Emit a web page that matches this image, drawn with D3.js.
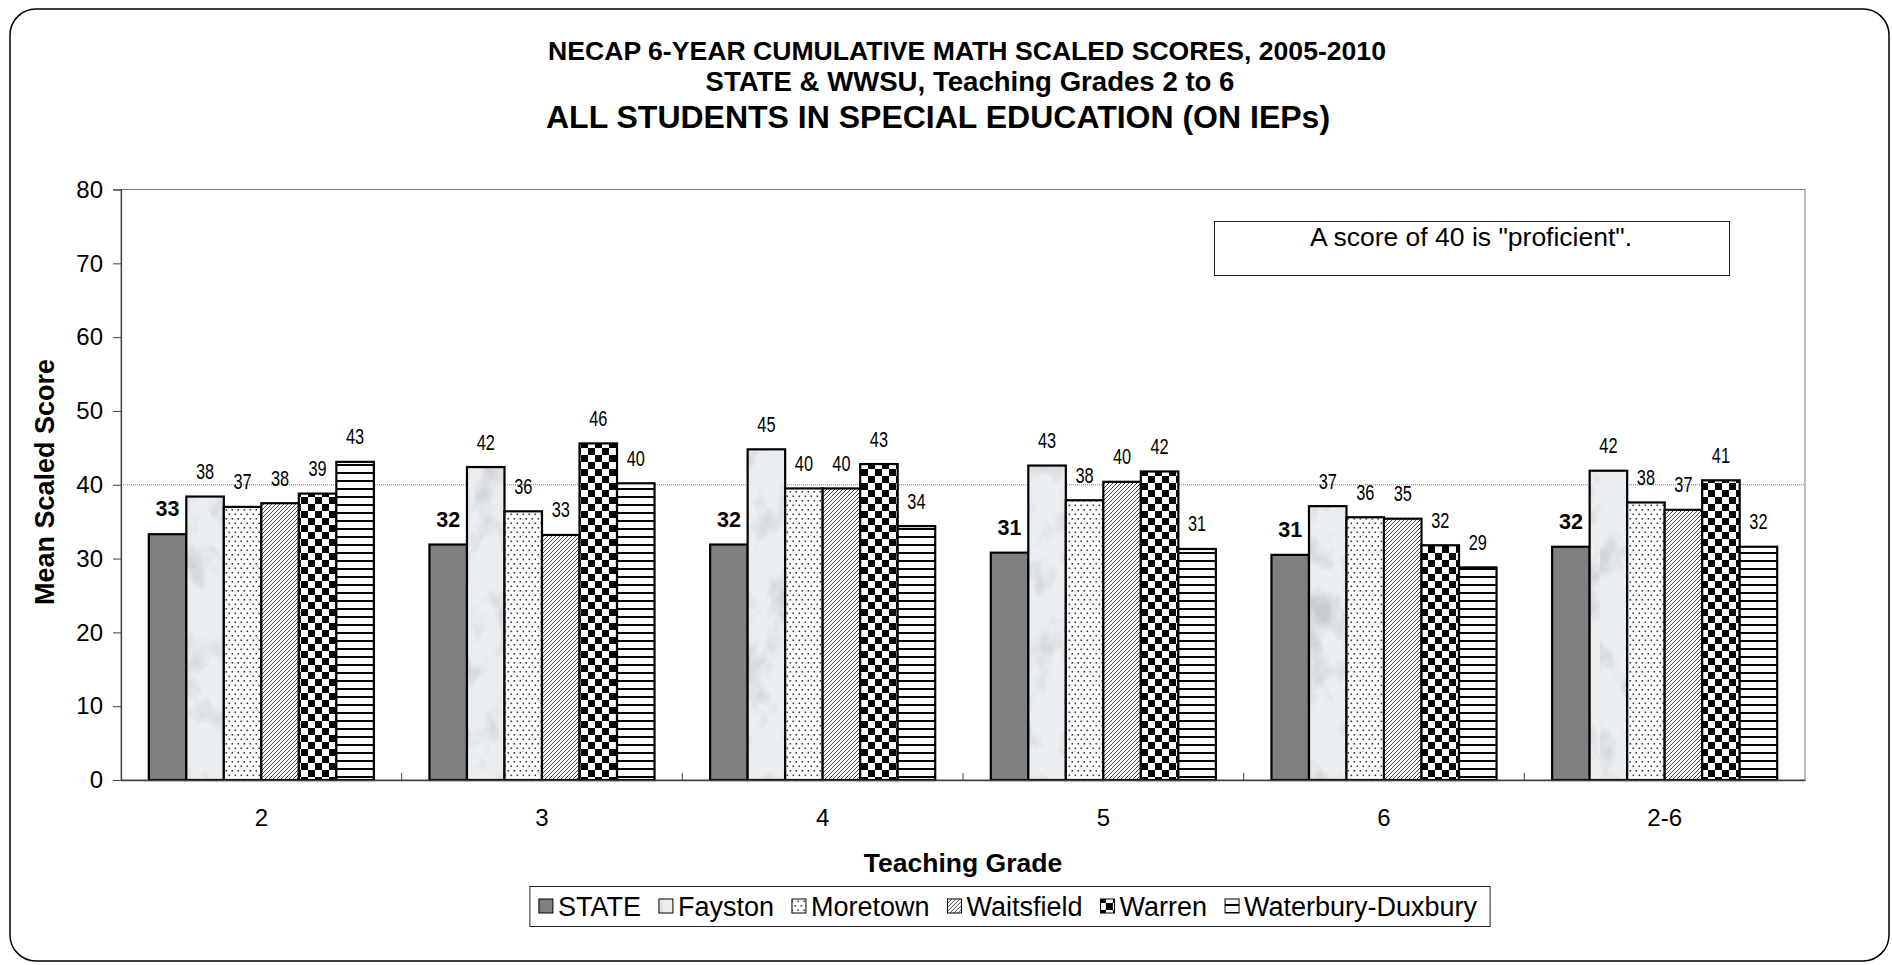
<!DOCTYPE html>
<html>
<head>
<meta charset="utf-8">
<script src="https://cdn.jsdelivr.net/npm/d3@7"></script>
<style>
  html, body { margin: 0; padding: 0; background: #ffffff; }
  svg { display: block; }
  .sans { font-family: "Liberation Sans", Arial, Helvetica, sans-serif; }
</style>
</head>
<body>
<script>
// ---------------- DATA ----------------
const categories = ["2", "3", "4", "5", "6", "2-6"];
const seriesNames = ["STATE", "Fayston", "Moretown", "Waitsfield", "Warren", "Waterbury-Duxbury"];
const stateValues      = [33.3, 31.9, 31.9, 30.8, 30.5, 31.6];
const faystonValues    = [38.4, 42.4, 44.8, 42.6, 37.1, 41.9];
const moretownValues   = [37.0, 36.4, 39.5, 37.9, 35.6, 37.6];
const waitsfieldValues = [37.5, 33.2, 39.5, 40.4, 35.4, 36.6];
const warrenValues     = [38.8, 45.6, 42.8, 41.8, 31.8, 40.6];
const wdValues         = [43.1, 40.2, 34.4, 31.3, 28.8, 31.6];
const yTicks = [0, 10, 20, 30, 40, 50, 60, 70, 80];
const proficientScore = 40;
const titleLines = [
  "NECAP 6-YEAR CUMULATIVE MATH SCALED SCORES, 2005-2010",
  "STATE & WWSU, Teaching Grades 2 to 6",
  "ALL STUDENTS IN SPECIAL EDUCATION (ON IEPs)"
];
const xTitle = "Teaching Grade";
const yTitle = "Mean Scaled Score";
const noteText = "A score of 40 is \"proficient\".";

const seriesValues = [stateValues, faystonValues, moretownValues, waitsfieldValues, warrenValues, wdValues];

// ---------------- LAYOUT ----------------
const W = 1892, H = 965;
const plot = { left: 121, right: 1805, top: 189.5, bottom: 780 };

const svg = d3.select("body").append("svg").attr("width", W).attr("height", H);
const defs = svg.append("defs");

// Fayston: marble texture
const marble = defs.append("filter").attr("id", "marbleF")
  .attr("filterUnits", "userSpaceOnUse").attr("x", 0).attr("y", 0).attr("width", 400).attr("height", 900);
marble.append("feTurbulence").attr("type", "fractalNoise").attr("baseFrequency", "0.03 0.022")
  .attr("numOctaves", 4).attr("seed", 7).attr("result", "n");
marble.append("feColorMatrix").attr("in", "n").attr("type", "matrix")
  .attr("values", "0 0 0 0 0.58  0 0 0 0 0.60  0 0 0 0 0.63  2.8 0 0 0 -1.4");
const pf = defs.append("pattern").attr("id", "p-fayston").attr("patternUnits", "userSpaceOnUse")
  .attr("width", 400).attr("height", 900);
pf.append("rect").attr("width", 400).attr("height", 900).attr("fill", "#eaeef1");
pf.append("rect").attr("width", 400).attr("height", 900).attr("fill", "#fff").attr("filter", "url(#marbleF)");

// Moretown: dots
const pm = defs.append("pattern").attr("id", "p-moretown").attr("patternUnits", "userSpaceOnUse")
  .attr("width", 6).attr("height", 9);
pm.append("rect").attr("width", 6).attr("height", 9).attr("fill", "#fff");
pm.append("rect").attr("x", 0.5).attr("y", 0.5).attr("width", 1.6).attr("height", 1.6).attr("fill", "#3a3a3a");
pm.append("rect").attr("x", 3.5).attr("y", 5).attr("width", 1.6).attr("height", 1.6).attr("fill", "#3a3a3a");

// Waitsfield: diagonal hatch
const pw = defs.append("pattern").attr("id", "p-waitsfield").attr("patternUnits", "userSpaceOnUse")
  .attr("width", 4).attr("height", 4);
pw.append("rect").attr("width", 4).attr("height", 4).attr("fill", "#fff");
pw.append("path").attr("d", "M-1,1 l2,-2 M0,4 l4,-4 M3,5 l2,-2").attr("stroke", "#444").attr("stroke-width", 1);

// Warren: checkerboard
const pc = defs.append("pattern").attr("id", "p-warren").attr("patternUnits", "userSpaceOnUse")
  .attr("width", 14).attr("height", 14);
pc.append("rect").attr("width", 14).attr("height", 14).attr("fill", "#fff");
pc.append("rect").attr("width", 7).attr("height", 7).attr("fill", "#000");
pc.append("rect").attr("x", 7).attr("y", 7).attr("width", 7).attr("height", 7).attr("fill", "#000");

// Waterbury-Duxbury: horizontal lines
const ph = defs.append("pattern").attr("id", "p-wd").attr("patternUnits", "userSpaceOnUse")
  .attr("width", 8).attr("height", 8);
ph.append("rect").attr("width", 8).attr("height", 8).attr("fill", "#fff");
ph.append("rect").attr("y", 0).attr("width", 8).attr("height", 2).attr("fill", "#000");

const fills = ["#808080", "url(#p-fayston)", "url(#p-moretown)", "url(#p-waitsfield)", "url(#p-warren)", "url(#p-wd)"];

// ---- outer rounded frame ----
svg.append("rect").attr("x", 10).attr("y", 9).attr("width", 1879).attr("height", 952)
  .attr("rx", 26).attr("ry", 26).attr("fill", "#fff").attr("stroke", "#000").attr("stroke-width", 1.5);

// ---- titles ----
const tg = svg.append("g").attr("class", "sans").attr("font-weight", "bold").attr("text-anchor", "middle").attr("fill", "#000");
tg.append("text").attr("x", 967).attr("y", 60).attr("font-size", 26.6).text(titleLines[0]);
tg.append("text").attr("x", 970).attr("y", 91).attr("font-size", 27.6).text(titleLines[1]);
tg.append("text").attr("x", 938).attr("y", 128).attr("font-size", 32).text(titleLines[2]);

// ---- scales ----
const x0 = d3.scaleBand().domain(categories).range([plot.left, plot.right]).paddingInner(0).paddingOuter(0);
const x1 = d3.scaleBand().domain(seriesNames).range([27.8, x0.bandwidth() - 27.8]).padding(0);
const y = d3.scaleLinear().domain([0, 80]).range([plot.bottom, plot.top]);

// plot area border (top/right)
svg.append("rect").attr("x", plot.left).attr("y", plot.top)
  .attr("width", plot.right - plot.left).attr("height", plot.bottom - plot.top)
  .attr("fill", "none").attr("stroke", "#808080").attr("stroke-width", 1);

// proficient reference line
svg.append("line").attr("x1", plot.left).attr("x2", plot.right)
  .attr("y1", y(proficientScore)).attr("y2", y(proficientScore))
  .attr("stroke", "#808080").attr("stroke-width", 1).attr("stroke-dasharray", "1,1");

// ---- bars ----
const barData = [];
categories.forEach((c, ci) => {
  seriesNames.forEach((s, si) => {
    barData.push({ cat: c, series: s, si: si, value: seriesValues[si][ci] });
  });
});

const bars = svg.append("g");
bars.selectAll("rect").data(barData).join("rect")
  .attr("x", d => x0(d.cat) + x1(d.series))
  .attr("y", d => y(d.value))
  .attr("width", x1.bandwidth())
  .attr("height", d => y(0) - y(d.value))
  .attr("fill", d => fills[d.si])
  .attr("stroke", "#000").attr("stroke-width", 2.2);

// ---- value labels ----
const labels = svg.append("g").attr("class", "sans").attr("text-anchor", "middle").attr("fill", "#000");
labels.selectAll("text").data(barData).join("text")
  .attr("font-weight", d => d.si === 0 ? "bold" : "normal")
  .attr("font-size", d => d.si === 0 ? 21.5 : 21.5)
  .attr("transform", d => {
    const cx = x0(d.cat) + x1(d.series) + x1.bandwidth() / 2;
    const cy = y(d.value) - (d.si === 0 ? 18 : 17.5);
    return d.si === 0 ? `translate(${cx},${cy})` : `translate(${cx},${cy}) scale(0.76,1)`;
  })
  .text(d => Math.round(d.value));

// ---- axes ----
const yAxis = svg.append("g").attr("class", "sans")
  .attr("transform", `translate(${plot.left},0)`)
  .call(d3.axisLeft(y).tickValues(yTicks).tickSize(8).tickPadding(10).tickFormat(d3.format("d")));
yAxis.attr("font-family", null);
yAxis.selectAll("text").attr("font-size", 24).attr("fill", "#000");
yAxis.selectAll("line").attr("stroke", "#404040");
yAxis.select(".domain").attr("stroke", "#404040").attr("stroke-width", 1.2);

const xAxis = svg.append("g").attr("class", "sans")
  .attr("transform", `translate(0,${plot.bottom})`)
  .call(d3.axisBottom(x0).tickSize(0).tickPadding(29));
xAxis.attr("font-family", null);
xAxis.selectAll("text").attr("font-size", 24).attr("fill", "#000");
xAxis.select(".domain").attr("stroke", "#404040").attr("stroke-width", 1.5);

// group boundary ticks (inside)
svg.append("g").selectAll("line").data(categories.slice(1)).join("line")
  .attr("x1", d => x0(d)).attr("x2", d => x0(d))
  .attr("y1", plot.bottom).attr("y2", plot.bottom - 7)
  .attr("stroke", "#404040").attr("stroke-width", 1);

// axis titles
svg.append("text").attr("class", "sans").attr("font-weight", "bold").attr("font-size", 26.5)
  .attr("text-anchor", "middle").attr("x", 963).attr("y", 872).text(xTitle);
svg.append("text").attr("class", "sans").attr("font-weight", "bold").attr("font-size", 27)
  .attr("text-anchor", "middle")
  .attr("transform", "translate(54,482) rotate(-90)").text(yTitle);

// ---- note box ----
svg.append("rect").attr("x", 1214.5).attr("y", 221.5).attr("width", 515).attr("height", 54)
  .attr("fill", "#fff").attr("stroke", "#222").attr("stroke-width", 1);
svg.append("text").attr("class", "sans").attr("font-size", 26.5).attr("text-anchor", "middle")
  .attr("x", 1471).attr("y", 246).text(noteText);

// ---- legend ----
const lg = svg.append("g").attr("class", "sans");
const legBox = lg.append("rect").attr("fill", "#fff").attr("stroke", "#222").attr("stroke-width", 1);
let lx = 0;
const items = [];
seriesNames.forEach((s, i) => {
  const g = lg.append("g");
  g.append("rect").attr("x", lx).attr("y", 899).attr("width", 14).attr("height", 14)
    .attr("fill", fills[i]).attr("stroke", "#000").attr("stroke-width", 1);
  const t = g.append("text").attr("x", lx + 19).attr("y", 916).attr("font-size", 27).text(s);
  const w = t.node().getComputedTextLength();
  lx = lx + 19 + w + 18;
  items.push(g);
});
const totalW = lx - 18;
const legLeft = 1008 - totalW / 2;
items.forEach(g => g.attr("transform", `translate(${legLeft},0)`));
legBox.attr("x", legLeft - 9).attr("y", 886.5).attr("width", totalW + 22).attr("height", 40);
</script>
</body>
</html>
